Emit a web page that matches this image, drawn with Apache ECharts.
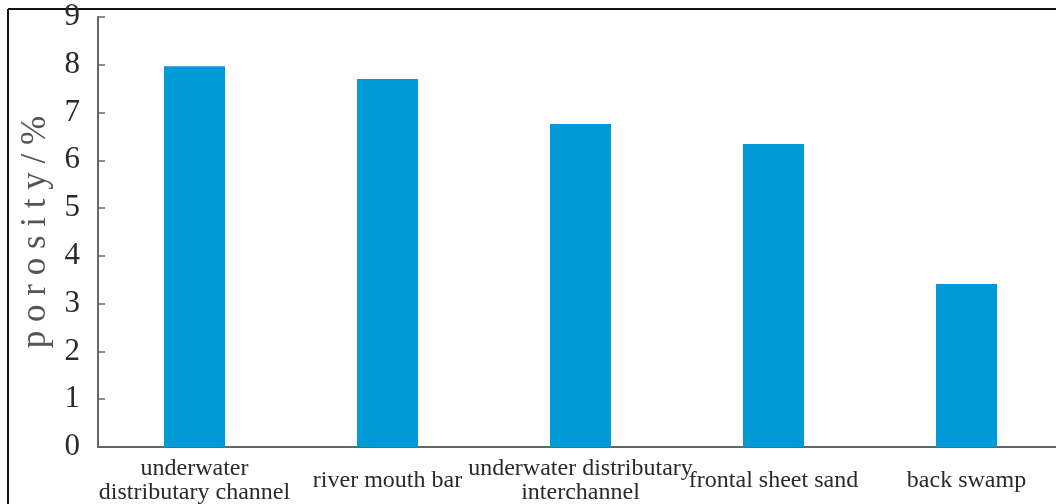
<!DOCTYPE html>
<html>
<head>
<meta charset="utf-8">
<script src="https://cdn.jsdelivr.net/npm/echarts@6/dist/echarts.min.js"></script>
<style>
  html, body { margin: 0; padding: 0; background: #fff; }
  #chart { width: 1056px; height: 504px; }
</style>
</head>
<body>
<div id="chart"></div>
<script>
// facies types along the x axis
const facies = [
  'underwater\ndistributary channel',
  'river mouth bar',
  'underwater distributary\ninterchannel',
  'frontal sheet sand',
  'back swamp'
]
// mean porosity, %
const porosity = [7.97, 7.70, 6.76, 6.34, 3.41]
const yTicks = [0, 1, 2, 3, 4, 5, 6, 7, 8, 9]

const chart = echarts.init(document.getElementById('chart'))

const option = {
  backgroundColor: '#fff',
  animation: false,
  grid: {
    left: 98,
    right: -7,
    top: 17,
    bottom: 57,
    outerBoundsMode: 'none',
    containLabel: false
  },
  // thin black frame along the top and left edges
  graphic: [
    { type: 'line', shape: { x1: 8, y1: 9, x2: 1056, y2: 9 }, style: { stroke: '#111', lineWidth: 2 } },
    { type: 'line', shape: { x1: 8, y1: 9, x2: 8, y2: 504 }, style: { stroke: '#111', lineWidth: 2 } }
  ],
  xAxis: {
    type: 'category',
    data: facies,
    axisLine: { lineStyle: { color: '#666', width: 2 } },
    axisTick: { inside: true, length: 7, lineStyle: { color: '#666', width: 1.5 } },
    axisLabel: {
      interval: 0,
      margin: 34,
      verticalAlign: 'middle',
      fontFamily: 'Liberation Serif',
      fontSize: 24,
      lineHeight: 24,
      color: '#2a2a2a'
    }
  },
  yAxis: {
    type: 'value',
    min: yTicks[0],
    max: yTicks[yTicks.length - 1],
    interval: 1,
    name: 'p o r o s i t y / %',
    nameLocation: 'middle',
    nameGap: 45,
    nameTextStyle: {
      fontFamily: 'Liberation Serif',
      fontSize: 35,
      color: '#555'
    },
    axisLine: { show: true, lineStyle: { color: '#666', width: 2 } },
    axisTick: { show: true, inside: true, length: 7, lineStyle: { color: '#666', width: 1.5 } },
    splitLine: { show: false },
    axisLabel: {
      margin: 18,
      fontFamily: 'Liberation Serif',
      fontSize: 31,
      color: '#2a2a2a'
    }
  },
  series: [
    {
      type: 'bar',
      data: porosity,
      barWidth: 61,
      itemStyle: { color: '#009bd6' }
    }
  ]
}

chart.setOption(option)
</script>
</body>
</html>
